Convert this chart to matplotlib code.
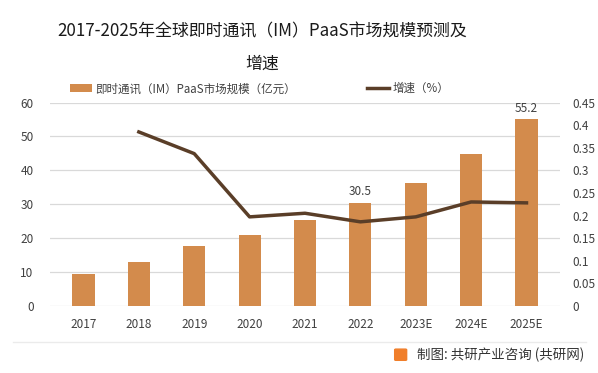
import matplotlib
matplotlib.use('Agg')
import matplotlib.pyplot as plt
from matplotlib.patches import FancyBboxPatch
from matplotlib.lines import Line2D

plt.rcParams['font.family'] = ['Noto Sans CJK SC', 'DejaVu Sans']

# data
years = ["2017", "2018", "2019", "2020", "2021", "2022", "2023E", "2024E", "2025E"]
market_size = [9.5, 13.0, 17.7, 21.0, 25.4, 30.5, 36.4, 44.7, 55.2]
growth_years = ["2018", "2019", "2020", "2021", "2022", "2023E", "2024E", "2025E"]
growth_rate = [0.385, 0.337, 0.197, 0.205, 0.186, 0.197, 0.230, 0.228]
labelled = ["2022", "2025E"]

bar_color = "#D38B4C"
line_color = "#5A3E28"
text_color = "#404040"

fig = plt.figure(figsize=(5.98, 3.73), dpi=100)
ax = fig.add_axes([0.084, 0.18, 0.852, 0.545])
ax2 = ax.twinx()

x = list(range(len(years)))
bars = ax.bar(x, market_size, width=0.4, color=bar_color, zorder=2,
              label="即时通讯（IM）PaaS市场规模（亿元）")
gx = [years.index(y) for y in growth_years]
ln, = ax2.plot(gx, growth_rate, color=line_color, lw=2.5, zorder=3,
               solid_joinstyle='round', label="增速（%）")

for i, y in enumerate(years):
    if y in labelled:
        ax.text(i, market_size[i] + 1.2, f"{market_size[i]}", ha='center', va='bottom',
                fontsize=8.5, color=text_color)

ax.set_ylim(0, 60)
ax.set_yticks(range(0, 61, 10))
ax2.set_ylim(0, 0.45)
ax2.set_yticks([i * 0.05 for i in range(10)])
ax2.set_yticklabels(["0", "0.05", "0.1", "0.15", "0.2", "0.25", "0.3", "0.35", "0.4", "0.45"])
ax.set_xlim(-0.6, len(years) - 0.4)
ax.set_xticks(x)
ax.set_xticklabels(years)

ax.grid(axis='y', color='#D9D9D9', lw=0.9, zorder=0)
ax.set_axisbelow(True)
for a in (ax, ax2):
    for s in a.spines.values():
        s.set_visible(False)
    a.tick_params(length=0, labelsize=8.5, colors=text_color)
ax.tick_params(axis='x', pad=9)
ax.tick_params(axis='y', pad=12)
ax2.tick_params(axis='y', pad=9)

fig.text(0.438, 0.915, "2017-2025年全球即时通讯（IM）PaaS市场规模预测及", ha='center', va='center',
         fontsize=12.2, color='#1a1a1a')
fig.text(0.438, 0.83, "增速", ha='center', va='center', fontsize=12.2, color='#1a1a1a')

fig.legend(handles=[bars, ln], loc='center left', bbox_to_anchor=(0.117, 0.762), ncol=2,
           frameon=False, fontsize=8.3, handlelength=1.9, columnspacing=6.2,
           labelcolor=text_color, handletextpad=0.3, borderaxespad=0, borderpad=0)

# footer separator and credit
fig.add_artist(Line2D([0.022, 0.98], [0.083, 0.083], transform=fig.transFigure,
                      color='#EBEBEB', lw=1))
fig.patches.append(FancyBboxPatch((0.662, 0.036), 0.016, 0.026, boxstyle="round,pad=0.002",
                                  transform=fig.transFigure, color="#F07E2A"))
fig.text(0.698, 0.048, "制图: 共研产业咨询 (共研网)", ha='left', va='center',
         fontsize=9.7, color='#333333')

fig.savefig("out.png", dpi=100)
